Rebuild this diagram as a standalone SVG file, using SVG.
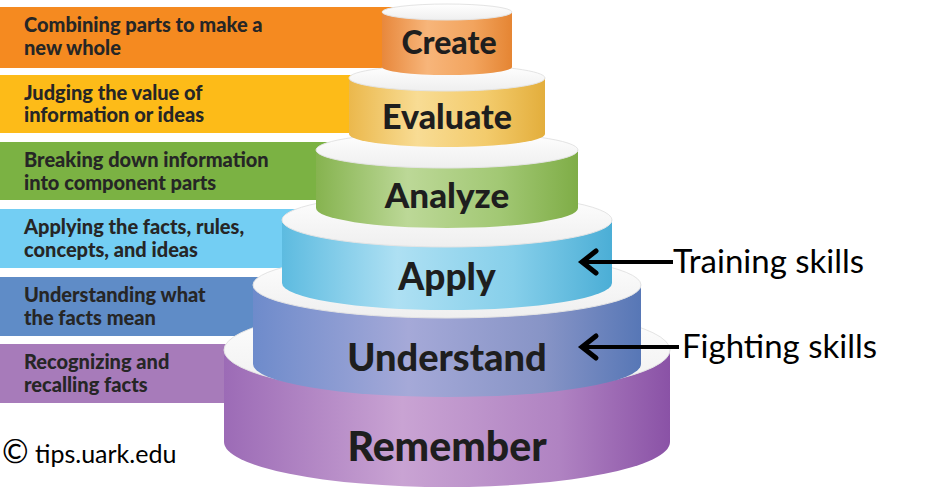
<svg xmlns="http://www.w3.org/2000/svg" width="930" height="500" viewBox="0 0 930 500">
<defs>
<linearGradient id="gCreate" x1="0" x2="1" y1="0" y2="0"><stop offset="0" stop-color="#E8883C"/><stop offset="0.35" stop-color="#F7B57A"/><stop offset="0.7" stop-color="#F2A45E"/><stop offset="1" stop-color="#E58533"/></linearGradient>
<linearGradient id="gEvaluate" x1="0" x2="1" y1="0" y2="0"><stop offset="0" stop-color="#EBB84C"/><stop offset="0.35" stop-color="#F8DC94"/><stop offset="0.7" stop-color="#F3CB6C"/><stop offset="1" stop-color="#E3AE3C"/></linearGradient>
<linearGradient id="gAnalyze" x1="0" x2="1" y1="0" y2="0"><stop offset="0" stop-color="#86B34F"/><stop offset="0.35" stop-color="#BCD897"/><stop offset="0.7" stop-color="#A2C874"/><stop offset="1" stop-color="#7FAD47"/></linearGradient>
<linearGradient id="gApply" x1="0" x2="1" y1="0" y2="0"><stop offset="0" stop-color="#5DBBE0"/><stop offset="0.35" stop-color="#AEE0F3"/><stop offset="0.7" stop-color="#86CFEA"/><stop offset="1" stop-color="#4BAED6"/></linearGradient>
<linearGradient id="gUnderstand" x1="0" x2="1" y1="0" y2="0"><stop offset="0" stop-color="#6E8BCB"/><stop offset="0.4" stop-color="#A5A9D8"/><stop offset="0.75" stop-color="#8794C6"/><stop offset="1" stop-color="#5777B6"/></linearGradient>
<linearGradient id="gRemember" x1="0" x2="1" y1="0" y2="0"><stop offset="0" stop-color="#9C6BB6"/><stop offset="0.4" stop-color="#C9A3D3"/><stop offset="0.75" stop-color="#B083C2"/><stop offset="1" stop-color="#8A52A6"/></linearGradient>
<linearGradient id="gTop" x1="0" x2="0" y1="0" y2="1"><stop offset="0" stop-color="#FFFFFF"/><stop offset="1" stop-color="#EFEFEF"/></linearGradient>
</defs>
<style>
.band{stroke:none}
.btxt{font-family:Lato,"Liberation Sans",sans-serif;font-weight:900;font-size:20px;fill:#262626}
.ctxt{font-family:Lato,"Liberation Sans",sans-serif;font-weight:900;fill:#1E1E1E;text-anchor:middle}
.top{fill:url(#gTop);stroke:#E4E4E4;stroke-width:1}
.lbl{font-family:Lato,"Liberation Sans",sans-serif;font-size:33px;fill:#000}
.arr{stroke:#000;stroke-width:4;fill:none;stroke-linecap:butt}
.head{stroke:#000;stroke-width:5;fill:none;stroke-linecap:round;stroke-linejoin:miter}
</style>
<rect width="930" height="500" fill="#FFFFFF"/>

<g id="bands">
<g id="band-create"><rect class="band" x="0" y="7" width="400" height="61" fill="#F58A20"/>
<text class="btxt" x="24" y="32">Combining parts to make a</text><text class="btxt" x="24" y="55">new whole</text></g>
<g id="band-evaluate"><rect class="band" x="0" y="75" width="370" height="58" fill="#FDBB18"/>
<text class="btxt" x="24" y="100">Judging the value of</text><text class="btxt" x="24" y="122">information or ideas</text></g>
<g id="band-analyze"><rect class="band" x="0" y="142" width="335" height="58" fill="#7BB243"/>
<text class="btxt" x="24" y="167">Breaking down information</text><text class="btxt" x="24" y="190">into component parts</text></g>
<g id="band-apply"><rect class="band" x="0" y="209" width="300" height="59" fill="#73CEF3"/>
<text class="btxt" x="24" y="234">Applying the facts, rules,</text><text class="btxt" x="24" y="257">concepts, and ideas</text></g>
<g id="band-understand"><rect class="band" x="0" y="277" width="265" height="59" fill="#5F8CC7"/>
<text class="btxt" x="24" y="302">Understanding what</text><text class="btxt" x="24" y="325">the facts mean</text></g>
<g id="band-remember"><rect class="band" x="0" y="344" width="240" height="59" fill="#A77BBA"/>
<text class="btxt" x="24" y="369">Recognizing and</text><text class="btxt" x="24" y="392">recalling facts</text></g>
</g>

<g id="tier-remember">
<path d="M224 350 L224 442 A223 45 0 0 0 670 442 L670 350 Z" fill="url(#gRemember)"/>
<ellipse class="top" cx="447" cy="350" rx="223" ry="45"/>
<text class="ctxt" x="447" y="461" font-size="41">Remember</text>
</g>
<g id="tier-understand">
<path d="M253 285 L253 364 A194 33 0 0 0 641 364 L641 285 Z" fill="url(#gUnderstand)"/>
<ellipse class="top" cx="447" cy="285" rx="194" ry="33"/>
<text class="ctxt" x="447" y="371" font-size="38">Understand</text>
</g>
<g id="tier-apply">
<path d="M282 220 L282 283 A165 27 0 0 0 612 283 L612 220 Z" fill="url(#gApply)"/>
<ellipse class="top" cx="447" cy="220" rx="165" ry="27"/>
<text class="ctxt" x="447" y="290" font-size="37">Apply</text>
</g>
<g id="tier-analyze">
<path d="M316 150 L316 208 A131 20 0 0 0 578 208 L578 150 Z" fill="url(#gAnalyze)"/>
<ellipse class="top" cx="447" cy="150" rx="131" ry="18"/>
<text class="ctxt" x="447" y="208" font-size="35">Analyze</text>
</g>
<g id="tier-evaluate">
<path d="M349 78 L349 134 A98 13 0 0 0 545 134 L545 78 Z" fill="url(#gEvaluate)"/>
<ellipse class="top" cx="447" cy="78" rx="98" ry="13"/>
<text class="ctxt" x="447" y="129" font-size="34">Evaluate</text>
</g>
<g id="tier-create">
<path d="M382 12 L382 67 A65 8 0 0 0 512 67 L512 12 Z" fill="url(#gCreate)"/>
<ellipse class="top" cx="447" cy="12" rx="65" ry="8"/>
<text class="ctxt" x="449" y="54" font-size="32">Create</text>
</g>

<g id="connectors">
<line class="arr" x1="582" y1="262" x2="673" y2="262"/>
<polyline class="head" points="596,251 582,262 596,273"/>
<line class="arr" x1="582" y1="347" x2="679" y2="347"/>
<polyline class="head" points="596,336 582,347 596,358"/>
</g>

<g id="labels">
<text class="lbl" x="673" y="273">Training skills</text>
<text class="lbl" x="682" y="358">Fighting skills</text>
<text x="2" y="463" font-family="Lato,'Liberation Sans',sans-serif" font-size="25" fill="#000"><tspan font-size="32">©</tspan> tips.uark.edu</text>
</g>
</svg>
